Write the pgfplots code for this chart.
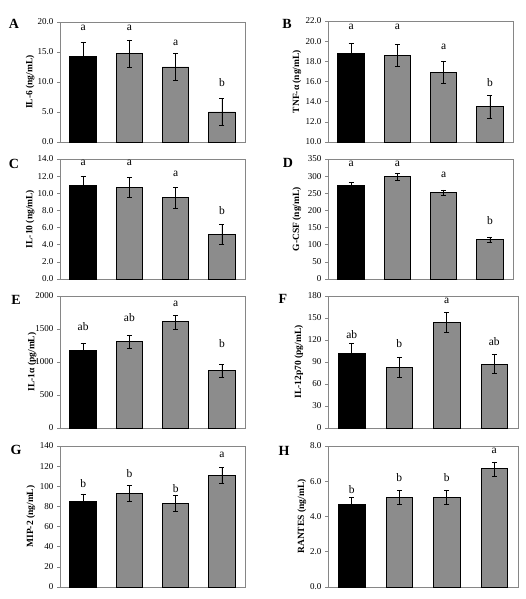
\documentclass[border=0pt]{standalone}
\usepackage{fontspec}
\setmainfont{Liberation Serif}
\usepackage{pgfplots}
\pgfplotsset{compat=1.18}
\definecolor{framegray}{RGB}{134,134,134}
\definecolor{bargray}{RGB}{140,140,140}
\pgfplotsset{
 panel/.style={
  scale only axis, ybar, bar width=26.5pt, xmin=-0.5, xmax=3.5, xtick=\empty,
  tick align=outside, ytick pos=left, major tick length=3pt,
  axis line style={draw=framegray, line width=0.8pt},
  every tick/.style={framegray, line width=0.6pt},
  yticklabel style={font=\fontsize{9}{10}\selectfont},
  ylabel style={font=\bfseries\fontsize{9.5}{10}\selectfont, at={(axis description cs:-0.155,0.5)}, anchor=center},
  clip=false, scaled y ticks=false, anchor=north west,
  /pgf/number format/assume math mode=true,
  /pgf/number format/1000 sep={},
 },
 dec1/.style={/pgf/number format/fixed, /pgf/number format/fixed zerofill, /pgf/number format/precision=1},
 errs/.style={error bars/.cd, y dir=both, y explicit,
   error bar style={black, line width=0.6pt},
   error mark options={rotate=90, mark size=2.5pt, black, line width=0.6pt}},
 bk/.style={fill=black, draw=black, line width=0.9pt, bar shift=0pt, errs},
 gr/.style={fill=bargray, draw=black, line width=0.9pt, bar shift=0pt, errs},
}
\tikzset{lt/.style={font=\fontsize{11.5}{12}\selectfont}}
\newcommand{\pl}{\fontsize{14}{14}\selectfont\bfseries}
\begin{document}
\begin{tikzpicture}
\path[use as bounding box] (0,0) rectangle (525pt,-599pt);
% A
\begin{axis}[panel, dec1, at={(60pt,-22pt)}, width=185pt, height=120pt, ymin=0, ymax=20, ytick={0,5,...,20}, ylabel={IL-6 (ng/mL)}, ylabel style={at={(axis description cs:-0.162,0.5)}}]
\addplot[bk] table[x=x,y=y,y error=e] {x y e
0 14.3 2.3
};
\addplot[gr] table[x=x,y=y,y error=e] {x y e
1 14.7 2.3
2 12.5 2.3
3 5.0 2.3
};
\node[lt] at (axis cs:0,19.1) {a};
\node[lt] at (axis cs:1,19.1) {a};
\node[lt] at (axis cs:2,16.6) {a};
\node[lt] at (axis cs:3,9.9) {b};
\end{axis}
% B
\begin{axis}[panel, dec1, at={(328pt,-21pt)}, width=185pt, height=121pt, ymin=10, ymax=22, ytick={10,12,...,22}, ylabel={TNF-α (ng/mL)}, ylabel style={at={(axis description cs:-0.168,0.5)}}]
\addplot[bk] table[x=x,y=y,y error=e] {x y e
0 18.8 1.0
};
\addplot[gr] table[x=x,y=y,y error=e] {x y e
1 18.6 1.1
2 16.9 1.1
3 13.5 1.1
};
\node[lt] at (axis cs:0,21.4) {a};
\node[lt] at (axis cs:1,21.4) {a};
\node[lt] at (axis cs:2,19.45) {a};
\node[lt] at (axis cs:3,15.9) {b};
\end{axis}
% C
\begin{axis}[panel, dec1, at={(60pt,-159pt)}, width=185pt, height=120pt, ymin=0, ymax=14, ytick={0,2,...,14}, ylabel={IL-10 (ng/mL)}, ylabel style={at={(axis description cs:-0.162,0.5)}}]
\addplot[bk] table[x=x,y=y,y error=e] {x y e
0 10.9 1.1
};
\addplot[gr] table[x=x,y=y,y error=e] {x y e
1 10.7 1.2
2 9.5 1.2
3 5.2 1.2
};
\node[lt] at (axis cs:0,13.5) {a};
\node[lt] at (axis cs:1,13.5) {a};
\node[lt] at (axis cs:2,12.24) {a};
\node[lt] at (axis cs:3,7.93) {b};
\end{axis}
% D
\begin{axis}[panel, at={(328pt,-159pt)}, width=185pt, height=120pt, ymin=0, ymax=350, ytick={0,50,...,350}, ylabel={G-CSF (ng/mL)}, ylabel style={at={(axis description cs:-0.168,0.5)}}]
\addplot[bk] table[x=x,y=y,y error=e] {x y e
0 274 8
};
\addplot[gr] table[x=x,y=y,y error=e] {x y e
1 298 9
2 252 8
3 115 8
};
\node[lt] at (axis cs:0,335) {a};
\node[lt] at (axis cs:1,335) {a};
\node[lt] at (axis cs:2,305) {a};
\node[lt] at (axis cs:3,170) {b};
\end{axis}
% E
\begin{axis}[panel, at={(60pt,-296pt)}, width=185pt, height=132pt, ymin=0, ymax=2000, ytick={0,500,...,2000}, ylabel={IL-1α (pg/mL)}, ylabel style={at={(axis description cs:-0.151,0.5)}}]
\addplot[bk] table[x=x,y=y,y error=e] {x y e
0 1180 100
};
\addplot[gr] table[x=x,y=y,y error=e] {x y e
1 1310 100
2 1607 105
3 867 100
};
\node[lt] at (axis cs:0,1536) {ab};
\node[lt] at (axis cs:1,1677) {ab};
\node[lt] at (axis cs:2,1875) {a};
\node[lt] at (axis cs:3,1284) {b};
\end{axis}
% F
\begin{axis}[panel, at={(328pt,-296pt)}, width=190pt, height=132pt, ymin=0, ymax=180, ytick={0,30,...,180}, ylabel={IL-12p70 (pg/mL)}, ylabel style={at={(axis description cs:-0.153,0.5)}}]
\addplot[bk] table[x=x,y=y,y error=e] {x y e
0 102 13
};
\addplot[gr] table[x=x,y=y,y error=e] {x y e
1 83 14
2 144 14
3 87 13
};
\node[lt] at (axis cs:0,128) {ab};
\node[lt] at (axis cs:1,115.5) {b};
\node[lt] at (axis cs:2,174) {a};
\node[lt] at (axis cs:3,118) {ab};
\end{axis}
% G
\begin{axis}[panel, at={(60pt,-446pt)}, width=185pt, height=141pt, ymin=0, ymax=140, ytick={0,20,...,140}, ylabel={MIP-2 (ng/mL)}, ylabel style={at={(axis description cs:-0.157,0.5)}}]
\addplot[bk] table[x=x,y=y,y error=e] {x y e
0 85 7.5
};
\addplot[gr] table[x=x,y=y,y error=e] {x y e
1 93 7.5
2 83 8
3 110.6 8
};
\node[lt] at (axis cs:0,103) {b};
\node[lt] at (axis cs:1,112.5) {b};
\node[lt] at (axis cs:2,97.5) {b};
\node[lt] at (axis cs:3,131) {a};
\end{axis}
% H
\begin{axis}[panel, dec1, at={(328pt,-446pt)}, width=190pt, height=141pt, ymin=0, ymax=8, ytick={0,2,...,8}, ylabel={RANTES (ng/mL)}, ylabel style={at={(axis description cs:-0.137,0.5)}}]
\addplot[bk] table[x=x,y=y,y error=e] {x y e
0 4.7 0.4
};
\addplot[gr] table[x=x,y=y,y error=e] {x y e
1 5.1 0.4
2 5.1 0.4
3 6.7 0.4
};
\node[lt] at (axis cs:0,5.53) {b};
\node[lt] at (axis cs:1,6.2) {b};
\node[lt] at (axis cs:2,6.2) {b};
\node[lt] at (axis cs:3,7.7) {a};
\end{axis}
% panel letters
\node[font=\pl] at (14pt,-24pt) {A};
\node[font=\pl] at (287pt,-24pt) {B};
\node[font=\pl] at (14pt,-164pt) {C};
\node[font=\pl] at (288pt,-163pt) {D};
\node[font=\pl] at (16pt,-300pt) {E};
\node[font=\pl] at (283pt,-299pt) {F};
\node[font=\pl] at (16pt,-450pt) {G};
\node[font=\pl] at (284pt,-451pt) {H};
\end{tikzpicture}
\end{document}
